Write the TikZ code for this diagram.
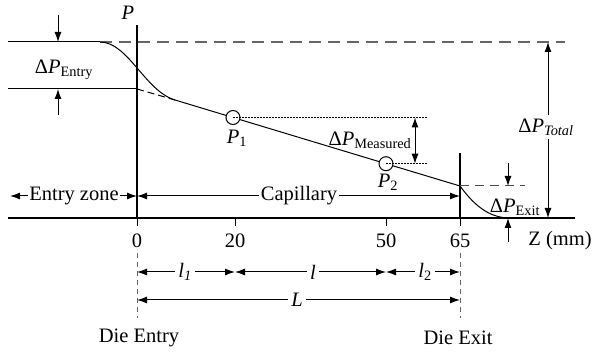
\documentclass[tikz,border=0pt]{standalone}
\usepackage{fontspec}
\setmainfont{Liberation Serif}
\usetikzlibrary{arrows.meta}
\begin{document}
\begin{tikzpicture}[x=1pt,y=-1pt,
  font=\fontsize{20.5}{24}\selectfont,
  thinline/.style={line width=1pt},
  thickline/.style={line width=2.8pt},
  arr/.style={line width=1pt,-{Latex[length=10pt,width=7pt]}},
  gdash/.style={line width=1.1pt,draw=black!60,dash pattern=on 12pt off 7pt},
  sdash/.style={line width=0.8pt,draw=black!60,dash pattern=on 5pt off 4pt},
  dotline/.style={line width=0.7pt,dash pattern=on 1.5pt off 1.5pt},
  lab/.style={inner sep=1.5pt},
  pcirc/.style={circle,draw,thinline,minimum size=14pt,inner sep=0pt},
]
\useasboundingbox (0,0) rectangle (595,355);
% key coordinates
\coordinate (e0) at (8,42);
\coordinate (c0) at (100,42);
\coordinate (tEnd) at (565,42);
\coordinate (e1) at (8,89);
\coordinate (v0b) at (137,89);
\coordinate (s0) at (175,100);
\coordinate (x0) at (460,186);
\coordinate (xEnd) at (508,218);
\coordinate (vTop) at (137,25);
\coordinate (o) at (137,218);
\coordinate (xTop) at (460,153);
\coordinate (x65) at (460,218);
\coordinate (axL) at (8,218);
\coordinate (axR) at (575,218);
% axes and walls
\draw[thickline] (axL) -- (axR);
\draw[thickline] (vTop) -- (o);
\draw[thickline] (xTop) -- (x65);
\foreach \t in {137,235,386,460} \draw[thinline] (\t,218) -- (\t,226);
\node[lab] (t0) at (137,241) {0};
\node[lab] (t20) at (235,241) {20};
\node[lab] (t50) at (386,241) {50};
\node[lab] (t65) at (460,241) {65};
\node[lab] (zmm) at (560,241) {Z (mm)};
\node[lab] (plab) at (128,13) {\textit{P}};
% pressure profile
\draw[thinline] (e0) -- (c0);
\draw[gdash] (c0) -- (tEnd);
\draw[thinline] (e1) -- (v0b);
\draw[thinline,dash pattern=on 7pt off 4pt] (v0b) -- (s0);
\draw[thinline] (c0) .. controls (128,42) and (145,91) .. (s0);
\node[pcirc] (p1) at (233,117.5) {};
\node[pcirc] (p2) at (386,163.7) {};
\draw[thinline] (s0) -- (p1);
\draw[thinline] (p1) -- (p2);
\draw[thinline] (p2) -- (x0);
\draw[thinline] (x0) .. controls (474,205) and (488,217) .. (xEnd);
\node[lab] (p1lab) at (237,138) {\textit{P}\textsubscript{1}};
\node[lab] (p2lab) at (388,182) {\textit{P}\textsubscript{2}};
% Delta P entry
\coordinate (de1) at (58,15);
\coordinate (de1b) at (58,42);
\coordinate (de2) at (58,115);
\coordinate (de2b) at (58,89);
\draw[arr] (de1) -- (de1b);
\draw[arr] (de2) -- (de2b);
\node[lab] (dpe) at (64,70) {Δ\textit{P}\textsubscript{Entry}};
% Delta P measured
\coordinate (m1) at (428,117.5);
\coordinate (m2) at (428,163.7);
\coordinate (ma) at (415,117.5);
\coordinate (mb) at (415,163.7);
\draw[dotline] (p1.center) -- (m1);
\draw[dotline] (p2.center) -- (m2);
\draw[line width=1pt,{Latex[length=10pt,width=7pt]}-{Latex[length=10pt,width=7pt]}] (ma) -- (mb);
\node[lab] (dpm) at (370,140) {Δ\textit{P}\textsubscript{Measured}};
% Delta P exit
\coordinate (xd) at (525,186);
\draw[thinline,draw=black!70,dash pattern=on 9pt off 6pt] (x0) -- (xd);
\coordinate (dx1) at (508,163);
\coordinate (dx1b) at (508,186);
\coordinate (dx2) at (508,242);
\draw[arr] (dx1) -- (dx1b);
\draw[arr] (dx2) -- (xEnd);
\node[lab] (dpx) at (515,207) {Δ\textit{P}\textsubscript{Exit}};
% Delta P total
\coordinate (tt) at (548,42);
\coordinate (tb) at (548,218);
\node[lab,inner sep=3pt] (dpt) at (546,127) {Δ\textit{P}\textsubscript{\textit{Total}}};
\draw[arr] (dpt.north -| tt) -- (tt);
\draw[arr] (dpt.south -| tb) -- (tb);
% zones
\coordinate (ezL) at (10,196);
\coordinate (ezR) at (137,196);
\coordinate (capR) at (460,196);
\node[lab] (ez) at (74,196) {Entry zone};
\node[lab] (cap) at (299,196) {Capillary};
\draw[arr] (ez.west) -- (ezL);
\draw[arr] (ez.east) -- (ezR);
\draw[arr] (cap.west) -- (ezR);
\draw[arr] (cap.east) -- (capR);
% lengths
\coordinate (dA) at (137,253);
\coordinate (dAe) at (137,318);
\coordinate (dB) at (460,253);
\coordinate (dBe) at (460,318);
\draw[sdash] (dA) -- (dAe);
\draw[sdash] (dB) -- (dBe);
\coordinate (l0) at (137,272);
\coordinate (l20) at (235,272);
\coordinate (l50) at (386,272);
\coordinate (l65) at (460,272);
\node[lab,inner sep=3pt] (l1lab) at (185,272) {\textit{l}\textsubscript{\textit{1}}};
\node[lab,inner sep=3pt] (llab) at (313,272) {\textit{l}};
\node[lab,inner sep=3pt] (l2lab) at (425,272) {\textit{l}\textsubscript{2}};
\draw[arr] (l1lab) -- (l0);
\draw[arr] (l1lab) -- (l20);
\draw[arr] (llab) -- (l20);
\draw[arr] (llab) -- (l50);
\draw[arr] (l2lab) -- (l50);
\draw[arr] (l2lab) -- (l65);
\coordinate (L0) at (137,300);
\coordinate (L65) at (460,300);
\node[lab,inner sep=3pt] (Llab) at (297,300) {\textit{L}};
\draw[arr] (Llab) -- (L0);
\draw[arr] (Llab) -- (L65);
\node[lab] (die1) at (139,338) {Die Entry};
\node[lab] (die2) at (458,338) {Die Exit};
\end{tikzpicture}
\end{document}
